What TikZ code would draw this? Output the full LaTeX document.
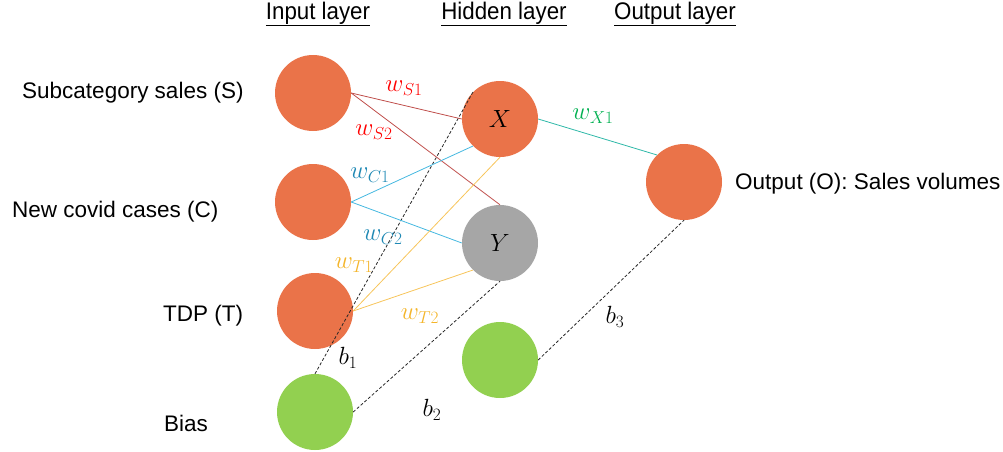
\documentclass[tikz,border=0pt]{standalone}
\usepackage{fontspec}
\setmainfont{Liberation Sans}
\newfontfamily\headfont[FakeStretch=0.93]{Liberation Sans}
\definecolor{nodeorange}{HTML}{EA7349}
\definecolor{nodegray}{HTML}{A6A6A6}
\definecolor{nodegreen}{HTML}{92D050}
\definecolor{linered}{HTML}{C0504D}
\definecolor{labred}{HTML}{FF0000}
\definecolor{lineblue}{HTML}{45B8E0}
\definecolor{labblue}{HTML}{1E88B4}
\definecolor{lineyellow}{HTML}{F7C55A}
\definecolor{labyellow}{HTML}{F4B52A}
\definecolor{lineteal}{HTML}{2EB8A8}
\definecolor{labgreen}{HTML}{00B050}
\tikzset{
  neuron/.style={circle, minimum size=76pt, inner sep=0pt, draw=none},
  inneuron/.style={neuron, fill=nodeorange},
  hidneuron/.style={neuron, fill=nodeorange},
  grayneuron/.style={neuron, fill=nodegray},
  biasneuron/.style={neuron, fill=nodegreen},
  desc/.style={font=\fontsize{22.5}{26}\selectfont, inner sep=0pt},
  header/.style={font=\headfont\fontsize{24}{28}\selectfont, inner sep=0pt},
  wlab/.style={font=\fontsize{27}{31}\selectfont, inner sep=0pt},
  varlab/.style={font=\fontsize{25}{29}\selectfont},
  conn/.style={line width=0.8pt},
  biasline/.style={line width=0.8pt, dash pattern=on 3pt off 2pt, black!85},
}
\begin{document}
\begin{tikzpicture}[x=1pt, y=-1pt]
\useasboundingbox (0,0) rectangle (1003,452);

% layer headings
\node[header] (hin)  at (318,14) {\underline{Input layer}};
\node[header] (hhid) at (504,14) {\underline{Hidden layer}};
\node[header] (hout) at (675,14) {\underline{Output layer}};

% input layer
\node[inneuron] (S) at (313,93) {};
\node[inneuron] (C) at (313,202) {};
\node[inneuron] (T) at (315,311) {};
\node[biasneuron] (B1) at (315,412) {};

% hidden layer
\node[hidneuron, varlab] (X) at (500,119) {$X$};
\node[grayneuron, varlab] (Y) at (500,243) {$Y$};
\node[biasneuron] (B2) at (500,360) {};

% output layer
\node[hidneuron] (O) at (684,182) {};

% descriptions
\node[desc, anchor=west] (tS) at (22,93) {Subcategory sales (S)};
\node[desc, anchor=west] (tC) at (12,212) {New covid cases (C)};
\node[desc, anchor=west] (tT) at (163,316) {TDP (T)};
\node[desc, anchor=west] (tB) at (164,423) {Bias};
\node[desc, anchor=west] (tO) at (735,184) {Output (O): Sales volumes};

% bias connections
\draw[biasline] (B1.north) -- (X.north west);
\draw[biasline] (B1.east) -- (Y.south);
\draw[biasline] (B2.east) -- (O.south);

% weighted connections
\draw[conn, linered] (S.east) -- (X.west);
\draw[conn, linered] (S.east) -- (Y.north);
\draw[conn, lineblue] (C.east) -- (X.south west);
\draw[conn, lineblue] (C.east) -- (Y.west);
\draw[conn, lineyellow] (T.east) -- (X.south);
\draw[conn, lineyellow] (T.east) -- (Y.south west);
\draw[conn, lineteal] (X.east) -- (O.north west);

% weight and bias labels
\node[wlab, labred] (lS1) at (404,88) {$w_{S1}$};
\node[wlab, labred] (lS2) at (374,132) {$w_{S2}$};
\node[wlab, labblue] (lC1) at (370,175) {$w_{C1}$};
\node[wlab, labblue] (lC2) at (383,237) {$w_{C2}$};
\node[wlab, labyellow] (lT1) at (354,265) {$w_{T1}$};
\node[wlab, labyellow] (lT2) at (420,316) {$w_{T2}$};
\node[wlab, labgreen] (lX1) at (593,116) {$w_{X1}$};
\node[wlab] (lb1) at (348,358) {$b_1$};
\node[wlab] (lb2) at (432,410) {$b_2$};
\node[wlab] (lb3) at (615,317) {$b_3$};
\end{tikzpicture}
\end{document}
